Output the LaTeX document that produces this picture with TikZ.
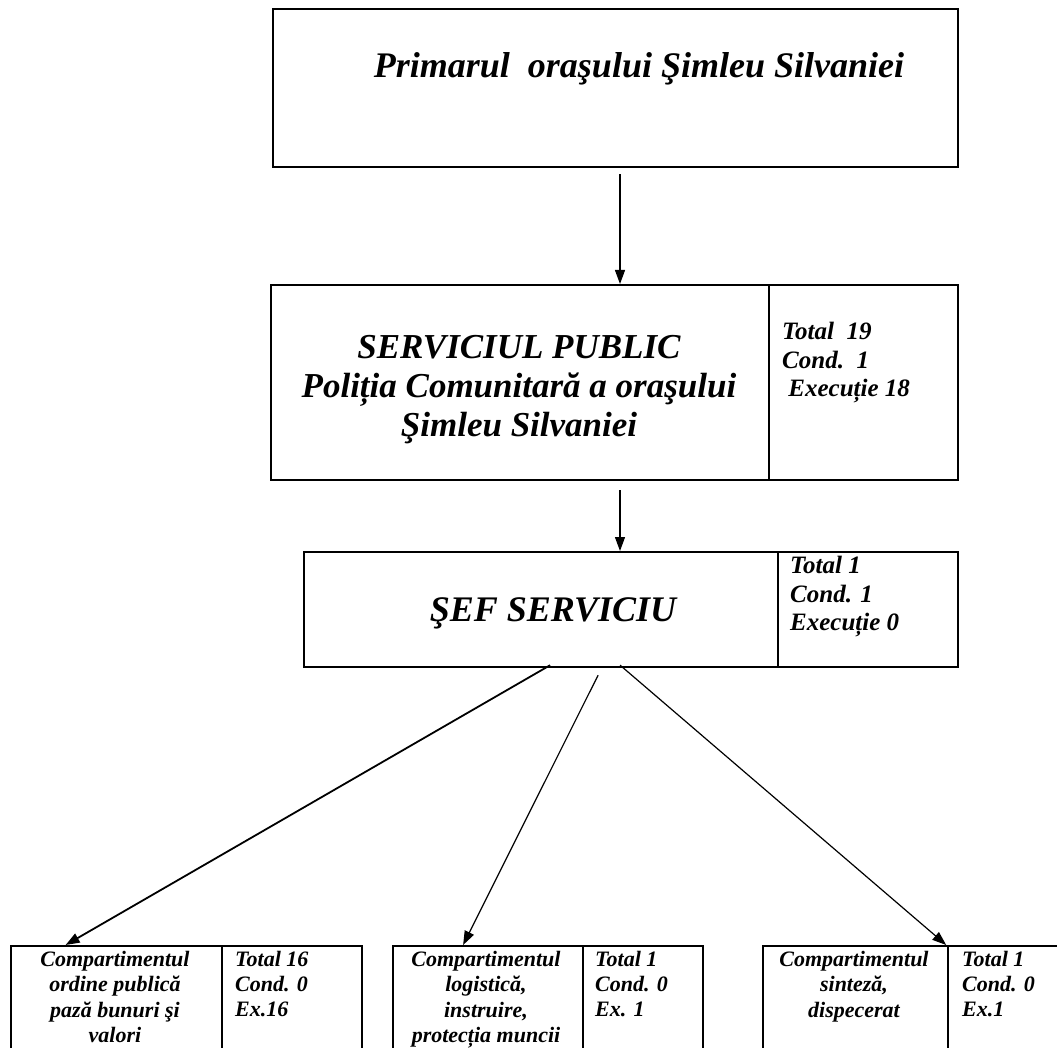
\documentclass[tikz,border=0pt]{standalone}
\usepackage{fontspec}
\setmainfont{Liberation Serif}
\usetikzlibrary{arrows.meta}

\begin{document}
\begin{tikzpicture}[x=1pt,y=-1pt,>={Triangle[length=14pt,width=10pt]},
    box node/.style={draw,line width=2.2pt,rectangle,inner sep=0pt,anchor=north west},
    big text/.style={font=\bfseries\itshape\fontsize{36}{39}\selectfont,align=center},
    mid text/.style={font=\bfseries\itshape\fontsize{35}{39}\selectfont,align=center},
    count text/.style={font=\bfseries\itshape\fontsize{25}{28.5}\selectfont,align=left,anchor=north west,inner sep=0pt},
    small text/.style={font=\bfseries\itshape\fontsize{22}{25.5}\selectfont,align=center,anchor=north,inner sep=0pt},
    small count/.style={font=\bfseries\itshape\fontsize{22}{25}\selectfont,align=left,anchor=north west,inner sep=0pt},
    link/.style={->,line width=1.2pt}]
  \clip (0,0) rectangle (1057,1048);
  \fill[white] (0,0) rectangle (1057,1048);
  \coordinate (axis) at (620,0);

  % primar
  \node[box node,minimum width=685,minimum height=158] (primar) at (272,8) {};
  \node[big text] (primartxt) at (639,69) {Primarul\ \ oraşului Şimleu Silvaniei};

  % serviciul public
  \node[box node,minimum width=498,minimum height=195] (serviciu) at (270,284) {};
  \node[box node,minimum width=189,minimum height=195] (serviciunr) at (768,284) {};
  \node[mid text] (serviciutxt) at (519,390) {SERVICIUL PUBLIC\\Poliția Comunitară a oraşului\\Şimleu Silvaniei};
  \node[count text] (serviciucnt) at (782,322) {Total\ \ 19\\Cond.\ \ 1\\\ Execuție 18};

  % sef serviciu
  \node[box node,minimum width=474,minimum height=115] (sef) at (303,551) {};
  \node[box node,minimum width=180,minimum height=115] (sefnr) at (777,551) {};
  \node[big text] (seftxt) at (553,613) {ŞEF SERVICIU};
  \node[count text] (sefcnt) at (790,556) {Total 1\\Cond. 1\\Execuție 0};

  % compartimente
  \node[box node,minimum width=211,minimum height=130] (ordine) at (10,945) {};
  \node[box node,minimum width=140,minimum height=130] (ordinenr) at (221,945) {};
  \node[small text] (ordinetxt) at (115,951) {Compartimentul\\ordine publică\\pază bunuri şi\\valori};
  \node[small count] (ordinecnt) at (235,951) {Total 16\\Cond. 0\\Ex.16};

  \node[box node,minimum width=190,minimum height=130] (logistica) at (392,945) {};
  \node[box node,minimum width=120,minimum height=130] (logisticanr) at (582,945) {};
  \node[small text] (logisticatxt) at (486,951) {Compartimentul\\logistică,\\instruire,\\protecția muncii};
  \node[small count] (logisticacnt) at (595,951) {Total 1\\Cond. 0\\Ex. 1};

  \node[box node,minimum width=185,minimum height=130] (sinteza) at (762,945) {};
  \node[box node,minimum width=130,minimum height=130] (sintezanr) at (947,945) {};
  \node[small text] (sintezatxt) at (854,951) {Compartimentul\\sinteză,\\dispecerat};
  \node[small count] (sintezacnt) at (962,951) {Total 1\\Cond. 0\\Ex.1};

  % legaturi
  \draw[link,shorten <=6pt] (primar.south -| axis) -- (serviciu.north -| axis);
  \draw[link,shorten <=9pt] (serviciu.south -| axis) -- (sef.north -| axis);
  \draw[link,line width=1.8pt] ([xshift=9pt,yshift=3pt]sef.south) -- ([xshift=-51pt]ordine.north);
  \draw[link] ([xshift=57pt,yshift=-7pt]sef.south) -- ([xshift=-25pt]logistica.north);
  \draw[link] ([xshift=79pt,yshift=3pt]sef.south) -- ([xshift=-3pt]sinteza.north east);
\end{tikzpicture}
\end{document}
